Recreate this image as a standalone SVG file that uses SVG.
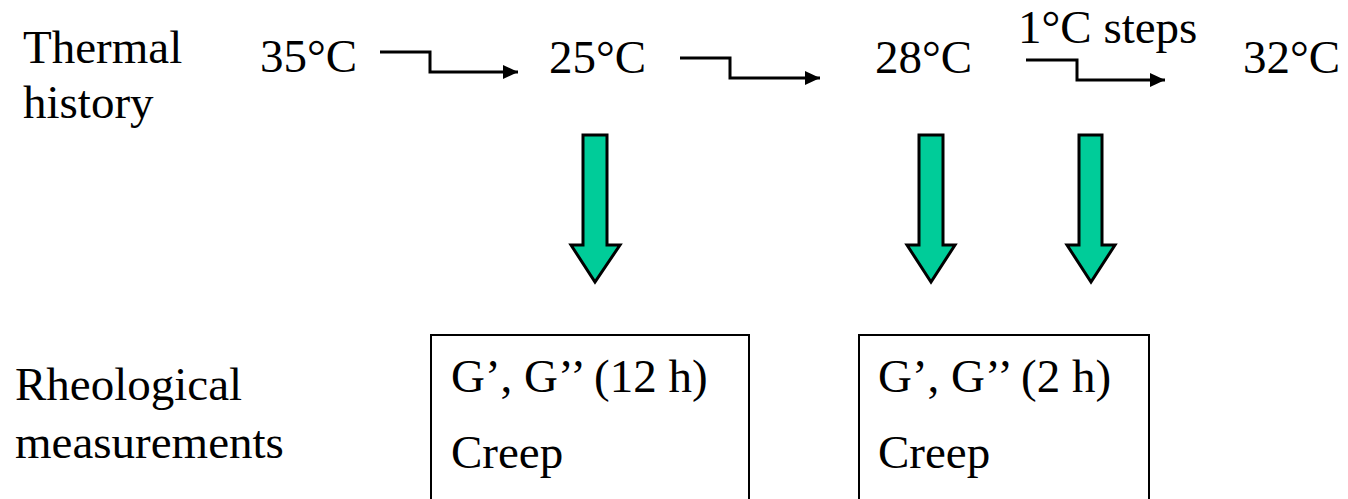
<svg xmlns="http://www.w3.org/2000/svg" width="1348" height="499" viewBox="0 0 1348 499">
<style>
text{font-family:'Liberation Serif',Tinos,'Times New Roman',Times,'DejaVu Serif',serif;font-size:47px;fill:#000}
.step{fill:none;stroke:#000;stroke-width:3}
.big{fill:#00CC99;stroke:#000;stroke-width:3;stroke-linejoin:miter}
.box{fill:#fff;stroke:#000;stroke-width:2}
</style>
<defs>
<marker id="ah" markerUnits="userSpaceOnUse" markerWidth="16" markerHeight="16" refX="15" refY="7" orient="auto">
<path d="M0,0 L15,7 L0,14 Z" fill="#000"/>
</marker>
</defs>
<rect width="1348" height="499" fill="#fff"/>
<g id="label-thermal"><text x="23" y="63">Thermal</text><text x="23" y="118">history</text></g>
<g id="t35"><text x="260" y="72">35°C</text></g>
<g id="t25"><text x="549" y="73">25°C</text></g>
<g id="t28"><text x="875" y="73">28°C</text></g>
<g id="t32"><text x="1243" y="73">32°C</text></g>
<g id="steps-label"><text x="1018" y="43">1°C steps</text></g>
<g id="label-rheo"><text x="15" y="400">Rheological</text><text x="15" y="458">measurements</text></g>
<g id="box1"><rect class="box" x="431" y="335" width="318" height="180"/><text x="451" y="392">G’, G’’ (12 h)</text><text x="451" y="468">Creep</text></g>
<g id="box2"><rect class="box" x="859" y="335" width="290" height="180"/><text x="878" y="392">G’, G’’ (2 h)</text><text x="878" y="468">Creep</text></g>
<g id="connectors">
<path class="step" d="M380,52 H430 V72 H518" marker-end="url(#ah)"/>
<path class="step" d="M680,58 H730 V78 H820" marker-end="url(#ah)"/>
<path class="step" d="M1026,60 H1077 V80 H1165" marker-end="url(#ah)"/>
<path class="big" d="M583,135 H607 V245 H620 L595,282 L571,245 H583 Z"/>
<path class="big" d="M919,135 H943 V245 H955 L931,282 L907,245 H919 Z"/>
<path class="big" d="M1079,135 H1102 V245 H1115 L1091,282 L1067,245 H1079 Z"/>
</g>
</svg>
